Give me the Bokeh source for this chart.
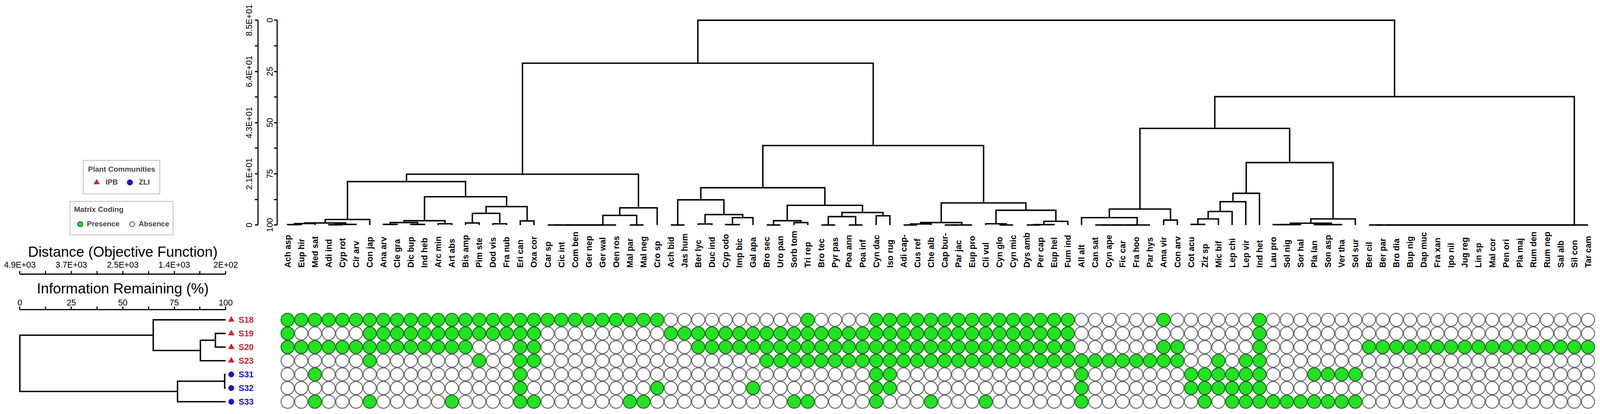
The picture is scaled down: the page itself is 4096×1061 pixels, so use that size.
import math
from bokeh.plotting import figure
from bokeh.models import (Range1d, LinearAxis, FixedTicker, Legend, LegendItem)
from bokeh.core.properties import value
from bokeh.embed import file_html
from bokeh.resources import INLINE

# ------------------------------------------------------------------ data
SPECIES = [
    "Ach asp", "Eup hir", "Med sat", "Adi ind", "Cyp rot", "Cir arv", "Con jap", "Ana arv",
    "Cle gra", "Dic bup", "Ind heb", "Arc min", "Art abs", "Bis amp", "Pim ste", "Dod vis",
    "Fra nub", "Eri can", "Oxa cor", "Car sp", "Cic int", "Com ben", "Ger nep", "Ger wal",
    "Oen ros", "Mal par", "Mal neg", "Cro sp", "Ach bid", "Jas hum", "Ber lyc", "Duc ind",
    "Cyp odo", "Imp bic", "Gal apa", "Bro sec", "Uro pan", "Sorb tom", "Tri rep", "Bro tec",
    "Pyr pas", "Poa ann", "Poa inf", "Cyn dac", "Iso rug", "Adi cap-", "Cus ref", "Che alb",
    "Cap bur-", "Par jac", "Eup pro", "Cli vul", "Cyn glo", "Cyn mic", "Dys amb", "Per cap",
    "Eup hel", "Fum ind", "All alt", "Can sat", "Cyn ape", "Fic car", "Fra hoo", "Par hys",
    "Ama vir", "Con arv", "Cot acu", "Ziz sp", "Mic bif", "Lep chi", "Lep vir", "Ind het",
    "Lau pro", "Sol nig", "Sor hal", "Pla lan", "Son asp", "Ver tha", "Sol sur", "Ber cil",
    "Ber par", "Bro dia", "Bup nig", "Dap muc", "Fra xan", "Ipo nil", "Jug reg", "Lin sp",
    "Mal cor", "Pen ori", "Pla maj", "Rum den", "Rum nep", "Sal alb", "Sil con", "Tar cam",
]

SAMPLES = ["S18", "S19", "S20", "S23", "S31", "S32", "S33"]
SAMPLE_GROUP = ["IPB", "IPB", "IPB", "IPB", "ZLI", "ZLI", "ZLI"]

# presence (1) / absence (0) per species column, 12 columns per chunk
PRES_S18 = "111111111111" "111111111111" "111100000000" "001000011111" "111111111100" "000010000001" "000000000000" "000000000000"
PRES_S19 = "100000111111" "111111100000" "000011111111" "111111111111" "111111111100" "000000000001" "000000000000" "000000000000"
PRES_S20 = "111111111111" "110001100000" "000000111111" "111111111111" "111111111100" "000011000001" "000000011111" "111111111111"
PRES_S23 = "000000100000" "001001100000" "000000000001" "111111111111" "111111111111" "111111001011" "000000000000" "000000000000"
PRES_S31 = "001000000000" "000001000000" "000000000000" "000000011000" "000000000010" "000000111111" "000111100000" "000000000000"
PRES_S32 = "000000000000" "000001000000" "000100000010" "000000011000" "000000000010" "000000111111" "000000000000" "000000000000"
PRES_S33 = "001000100000" "100001100000" "011000000000" "011000010001" "000100000010" "000000010111" "111111100000" "000000000000"
PRESENCE = [PRES_S18, PRES_S19, PRES_S20, PRES_S23, PRES_S31, PRES_S32, PRES_S33]

# species dendrogram: [child, child, ..., information remaining (%) at merge]
# leaves are species column indices; >2 children merge left to right at one height
B1A = [[[[0, 1, 99.8], 2, 99.3], [[3, 4, 99.9], 5, 99.7], 99.0], 6, 97.3]
B2A = [[[7, 8, 99.7], [9, 10, 99.7], 98.8], [11, 12, 99.4], 97.9]
B2B = [[[13, 14, 99.0], [15, 16, 99.4], 94.3], [17, 18, 98.0], 91.0]
B_R = [[[19, 20, 21, 22, 23, 24, 100.0], [25, 26, 100.0], 95.3], 27, 91.6]
C1A = [[28, 29, 100.0], [[30, 31, 99.5], [[32, 33, 99.8], 34, 96.4], 94.9], 87.7]
C1B = [[[35, 36, 100.0], [37, 38, 98.8], 97.9],
       [[[39, 40, 100.0], [41, 42, 100.0], 95.9], [43, 44, 95.5], 93.9], 90.4]
C2A = [[[45, 46, 100.0], 47, 99.5], [[48, 49, 100.0], 50, 100.0], 98.8]
C2B = [[51, [52, 53, 100.0], 99.4], [[[54, 55, 100.0], 56, 99.8], 57, 98.2], 92.8]
G_ = [[58, [59, 60, 61, 62, 63, 100.0], 96.4], [64, 65, 97.6], 92.2]
H1 = [[[[[66, 67, 99.7], 68, 97.0], 69, 93.4], 70, 88.6], 71, 84.5]
H2 = [[[[72, 73, 99.8], 74, 99.8], [[75, 76, 99.8], 77, 99.8], 99.1], 78, 97.0]
F_ = [79, 80, 81, 82, 83, 84, 85, 86, 87, 88, 89, 90, 91, 92, 93, 94, 95, 100.0]
B_ = [[B1A, [B2A, B2B, 86.2], 78.8], B_R, 75.2]
C_ = [[C1A, C1B, 81.8], [C2A, C2B, 89.2], 61.2]
D_ = [[G_, [H1, H2, 69.5], 52.8], F_, 37.3]
SPECIES_TREE = [[B_, C_, 21.0], D_, 0.0]

# sample dendrogram (leaves = sample rows)
SAMPLE_TREE = [[0, [[1, 2, 95.0], 3, 87.7], 64.8], [[4, 5, 99.5], 6, 76.6], 0.0]

INFO_TICKS = [0, 25, 50, 75, 100]
INFO_MINOR = [12.5, 37.5, 62.5, 87.5]
SPECIES_DIST_LABELS = ["8.5E+01", "6.4E+01", "4.3E+01", "2.1E+01", "0"]
SAMPLE_DIST_LABELS = ["4.9E+03", "3.7E+03", "2.5E+03", "1.4E+03", "2E+02"]
LEAF_INFO = 100.0

# ------------------------------------------------------------------ layout helpers
S = 0.939          # scale to the window
OFF = 0            # canvas offset on the page
W, H = 4088, 1053  # canvas


def cpx(v):
    return S * v - OFF


def xrange_for(x0, dx):
    a, b = cpx(x0), S * dx
    return Range1d(start=(0 - a) / b, end=(W - a) / b)


def yrange_for(y0, dy):
    a, b = cpx(y0), S * dy
    return Range1d(start=(H - a) / b, end=(0 - a) / b)


# reference-pixel geometry of the panels
COL_X0, COL_DX = 783.5, 37.32        # species columns
INFO_Y0, INFO_DY = 54.7, 5.589       # top dendrogram: info 0 -> y, per %
ROW_Y0, ROW_DY = 872.3, 37.25        # sample rows
LINFO_X0, LINFO_DX = 53.6, 5.612     # left dendrogram: info 0 -> x, per %


def col_at(X):
    return (X - COL_X0) / COL_DX


def info_at_y(Y):
    return (Y - INFO_Y0) / INFO_DY


def row_at(Y):
    return (Y - ROW_Y0) / ROW_DY


def linfo_at(X):
    return (X - LINFO_X0) / LINFO_DX


FONT = "Liberation Sans"
GREEN = "#22e222"
GREEN_LINE = "#1d6a1d"
EMPTY_LINE = "#686868"
RED = "#d3212b"
BLUE = "#1616c8"
LW = 3.6

p = figure(width=W, height=H, x_range=xrange_for(COL_X0, COL_DX),
           y_range=yrange_for(INFO_Y0, INFO_DY), output_backend="svg",
           toolbar_location=None, tools="", x_axis_location=None, y_axis_location=None,
           min_border=0, title=None)
p.extra_x_ranges = {"left": xrange_for(LINFO_X0, LINFO_DX)}
p.extra_y_ranges = {"rows": yrange_for(ROW_Y0, ROW_DY)}
p.outline_line_color = None
p.grid.visible = False
p.background_fill_color = "white"
p.border_fill_color = "white"


# ------------------------------------------------------------------ dendrogram geometry
def build(node, segs):
    if isinstance(node, int):
        return float(node), LEAF_INFO
    *kids, h = node
    pos, hh = build(kids[0], segs)
    for k in kids[1:]:
        p2, h2 = build(k, segs)
        segs.append((pos, hh, p2, h2, h))
        pos, hh = (pos + p2) / 2.0, h
    return pos, hh


top_segs = []
build(SPECIES_TREE, top_segs)
p.multi_line(xs=[[a, a, b, b] for a, ha, b, hb, h in top_segs],
             ys=[[ha, h, h, hb] for a, ha, b, hb, h in top_segs],
             line_color="black", line_width=LW, line_join="miter")

left_segs = []
build(SAMPLE_TREE, left_segs)
p.multi_line(xs=[[ha, h, h, hb] for a, ha, b, hb, h in left_segs],
             ys=[[a, a, b, b] for a, ha, b, hb, h in left_segs],
             line_color="black", line_width=LW, line_join="miter",
             x_range_name="left", y_range_name="rows")

# ------------------------------------------------------------------ species labels
p.text(x=list(range(len(SPECIES))), y=[info_at_y(730.0)] * len(SPECIES), text=SPECIES,
       angle=math.pi / 2, text_align="left", text_baseline="middle",
       text_font=value(FONT), text_font_style="bold", text_font_size="21.6px",
       text_color="black")

# ------------------------------------------------------------------ matrix
px, py, ax_, ay_ = [], [], [], []
for r, row in enumerate(PRESENCE):
    for c, ch in enumerate(row):
        if ch == "1":
            px.append(c); py.append(r)
        else:
            ax_.append(c); ay_.append(r)
r_pres = p.scatter(x=px, y=py, marker="circle", size=33.5, fill_color=GREEN,
                   line_color=GREEN_LINE, line_width=2.4, y_range_name="rows")
r_abs = p.scatter(x=ax_, y=ay_, marker="circle", size=33.5, fill_color="white",
                  line_color=EMPTY_LINE, line_width=2.4, y_range_name="rows")

# ------------------------------------------------------------------ sample labels
ipb = [i for i, g in enumerate(SAMPLE_GROUP) if g == "IPB"]
zli = [i for i, g in enumerate(SAMPLE_GROUP) if g == "ZLI"]
r_ipb = p.scatter(x=[linfo_at(630)] * len(ipb), y=ipb, marker="triangle", size=15,
                  fill_color=RED, line_color=RED, x_range_name="left", y_range_name="rows")
r_zli = p.scatter(x=[linfo_at(630)] * len(zli), y=zli, marker="circle", size=14,
                  fill_color=BLUE, line_color=BLUE, x_range_name="left", y_range_name="rows")
p.text(x=[linfo_at(650)] * len(SAMPLES), y=list(range(len(SAMPLES))), text=SAMPLES,
       text_color=[RED if g == "IPB" else BLUE for g in SAMPLE_GROUP],
       text_align="left", text_baseline="middle", text_font=value(FONT),
       text_font_style="bold", text_font_size="21.6px",
       x_range_name="left", y_range_name="rows")


# ------------------------------------------------------------------ axes
def style_axis(ax):
    ax.axis_line_width = 2.8
    ax.major_tick_line_width = 2.8
    ax.minor_tick_line_width = 2.8
    ax.major_tick_out = 8
    ax.major_tick_in = 0
    ax.minor_tick_out = 8
    ax.minor_tick_in = 0
    ax.major_label_text_font = FONT
    ax.major_label_text_font_size = "21.6px"
    ax.major_label_text_color = "black"
    ax.bounds = (0, 100)


ax1 = LinearAxis(ticker=FixedTicker(ticks=INFO_TICKS, minor_ticks=INFO_MINOR),
                 fixed_location=col_at(755), major_label_orientation="parallel",
                 major_label_standoff=3)
style_axis(ax1)
p.add_layout(ax1, "left")

ax2 = LinearAxis(ticker=FixedTicker(ticks=INFO_TICKS, minor_ticks=INFO_MINOR),
                 fixed_location=col_at(703), major_label_orientation="parallel",
                 major_label_standoff=3,
                 major_label_overrides=dict(zip(INFO_TICKS, SPECIES_DIST_LABELS)))
style_axis(ax2)
p.add_layout(ax2, "left")

ax3 = LinearAxis(ticker=FixedTicker(ticks=INFO_TICKS, minor_ticks=INFO_MINOR),
                 x_range_name="left", y_range_name="rows",
                 fixed_location=row_at(747.3), major_label_standoff=3,
                 major_label_overrides=dict(zip(INFO_TICKS, SAMPLE_DIST_LABELS)))
style_axis(ax3)
p.add_layout(ax3, "above")

ax4 = LinearAxis(ticker=FixedTicker(ticks=INFO_TICKS, minor_ticks=INFO_MINOR),
                 x_range_name="left", y_range_name="rows",
                 fixed_location=row_at(845.0), major_label_standoff=3)
style_axis(ax4)
p.add_layout(ax4, "above")

p.text(x=[50, 50], y=[row_at(686.7), row_at(786.7)],
       text=["Distance (Objective Function)", "Information Remaining (%)"],
       text_align="center", text_baseline="middle", text_font=value(FONT),
       text_font_size="37px", text_color="black",
       x_range_name="left", y_range_name="rows")


# ------------------------------------------------------------------ legends
def style_legend(lg):
    lg.border_line_color = "#7f7f7f"
    lg.border_line_width = 2
    lg.background_fill_color = "white"
    lg.background_fill_alpha = 1.0
    lg.orientation = "horizontal"
    lg.margin = 0
    lg.glyph_height = 36
    lg.label_standoff = 1
    lg.label_text_font = FONT
    lg.label_text_font_style = "bold"
    lg.label_text_font_size = "18.8px"
    lg.title_text_font = FONT
    lg.title_text_font_style = "bold"
    lg.title_text_font_size = "19px"


leg1 = Legend(items=[LegendItem(label="IPB", renderers=[r_ipb]),
                     LegendItem(label="ZLI", renderers=[r_zli])],
              title="Plant Communities", location=(cpx(226), H - cpx(530.3)))
style_legend(leg1)
leg1.padding = 11
leg1.glyph_width = 44
leg1.label_width = 32
leg1.spacing = 8
leg1.title_standoff = 4
p.add_layout(leg1)

leg2 = Legend(items=[LegendItem(label="Presence", renderers=[r_pres]),
                     LegendItem(label="Absence", renderers=[r_abs])],
              title="Matrix Coding", location=(cpx(190), H - cpx(642)))
style_legend(leg2)
leg2.padding = 9
leg2.glyph_width = 32
leg2.spacing = 16
leg2.title_standoff = 8
p.add_layout(leg2)

open("out.html", "w").write(file_html(p, INLINE, title="Two-way cluster dendrogram"))
